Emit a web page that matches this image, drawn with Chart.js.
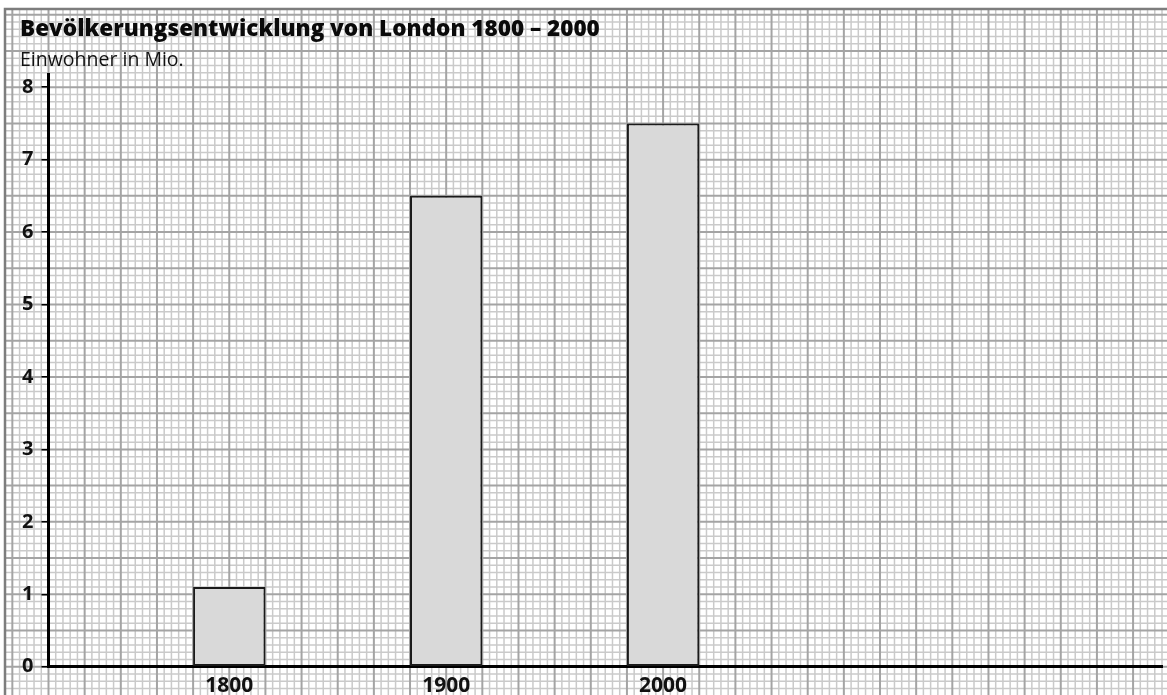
<!DOCTYPE html>
<html>
<head>
<meta charset="utf-8">
<script src="https://cdn.jsdelivr.net/npm/chart.js@4"></script>
<style>
  html, body { margin: 0; padding: 0; background: #fff; }
  canvas { display: block; }
</style>
</head>
<body>
<canvas id="londonChart" width="1167" height="695"></canvas>
<script>
// Bevölkerung London, Einwohner in Mio.
const years = ['1800', '1900', '2000'];
const population = [1.1, 6.5, 7.5];
const yTicks = [0, 1, 2, 3, 4, 5, 6, 7, 8];

// x axis is measured in graph paper units (one unit = one big square)
const firstSlot = 2.5;
const slotGap = 3;
const slotOf = i => firstSlot + i * slotGap;

// Millimetre paper behind everything, drawn through the chart's own scales
const graphPaper = {
  id: 'graphPaper',
  beforeDraw(chart) {
    const { ctx, scales: { x, y } } = chart;
    const W = chart.width, H = chart.height;
    ctx.save();
    ctx.fillStyle = '#fff';
    ctx.fillRect(0, 0, W, H);
    ctx.beginPath();
    ctx.rect(5, 10, W - 5, H - 10);
    ctx.clip();

    const lines = (pass) => {
      for (let k = -8; k <= 160; k++) {
        const major = k % 5 === 0;
        if (major !== pass) continue;
        const px = x.getPixelForValue(k / 10);
        ctx.beginPath();
        ctx.moveTo(px, 0);
        ctx.lineTo(px, H);
        ctx.stroke();
      }
      for (let k = -6; k <= 95; k++) {
        const major = k % 5 === 0;
        if (major !== pass) continue;
        const py = y.getPixelForValue(k / 10);
        ctx.beginPath();
        ctx.moveTo(0, py);
        ctx.lineTo(W, py);
        ctx.stroke();
      }
    };
    ctx.strokeStyle = '#cacaca';
    ctx.lineWidth = 1.5;
    lines(false);
    ctx.strokeStyle = '#a4a4a4';
    ctx.lineWidth = 2;
    lines(true);
    ctx.restore();

    // frame of the sheet
    ctx.save();
    ctx.strokeStyle = '#7d7d7d';
    ctx.lineWidth = 2.5;
    ctx.beginPath();
    ctx.moveTo(5, H);
    ctx.lineTo(5, 9);
    ctx.lineTo(W, 9);
    ctx.stroke();
    ctx.restore();
  }
};

new Chart(document.getElementById('londonChart'), {
  type: 'bar',
  data: {
    datasets: [{
      data: population.map((v, i) => ({ x: slotOf(i), y: v })),
      backgroundColor: '#d9d9d9',
      borderColor: '#1a1a1a',
      borderWidth: 2,
      borderSkipped: false,
      categoryPercentage: 1,
      barPercentage: 1 / 3
    }]
  },
  options: {
    responsive: false,
    animation: false,
    layout: { padding: { left: 20, right: 5, top: 0, bottom: 0 } },
    plugins: {
      legend: { display: false },
      tooltip: { enabled: false },
      title: {
        display: true,
        text: 'Bevölkerungsentwicklung von London 1800 – 2000',
        align: 'start',
        color: '#0a0a0a',
        font: { family: 'Open Sans', size: 22.5, weight: '800', lineHeight: 1.2 },
        padding: { top: 16, bottom: 0 }
      },
      subtitle: {
        display: true,
        text: 'Einwohner in Mio.',
        align: 'start',
        color: '#111',
        font: { family: 'Open Sans', size: 19.5, weight: 'normal', lineHeight: 1.2 },
        padding: { top: 6, bottom: 2.5 }
      }
    },
    scales: {
      x: {
        type: 'linear',
        offset: false,
        min: 0,
        max: 15.4,
        afterBuildTicks: s => { s.ticks = years.map((_, i) => ({ value: slotOf(i) })); },
        afterFit: s => { s.height = 28.3; },
        ticks: {
          callback: (v) => years[Math.round((v - firstSlot) / slotGap)],
          color: '#111',
          padding: 7,
          maxRotation: 0,
          autoSkip: false,
          font: { family: 'Open Sans', size: 21, weight: 'bold' }
        },
        grid: { display: false, drawTicks: false },
        border: { display: true, color: '#000', width: 3 }
      },
      y: {
        min: 0,
        max: 8.17,
        afterBuildTicks: s => { s.ticks = yTicks.map(v => ({ value: v })); },
        afterFit: s => { s.width = 28.5; },
        ticks: {
          color: '#111',
          padding: 8,
          font: { family: 'Open Sans', size: 20, weight: 'bold' }
        },
        grid: { drawOnChartArea: false, drawTicks: true, tickLength: 7, color: '#000', lineWidth: 1.5 },
        border: { display: true, color: '#000', width: 3 }
      }
    }
  },
  plugins: [graphPaper]
});
</script>
</body>
</html>
